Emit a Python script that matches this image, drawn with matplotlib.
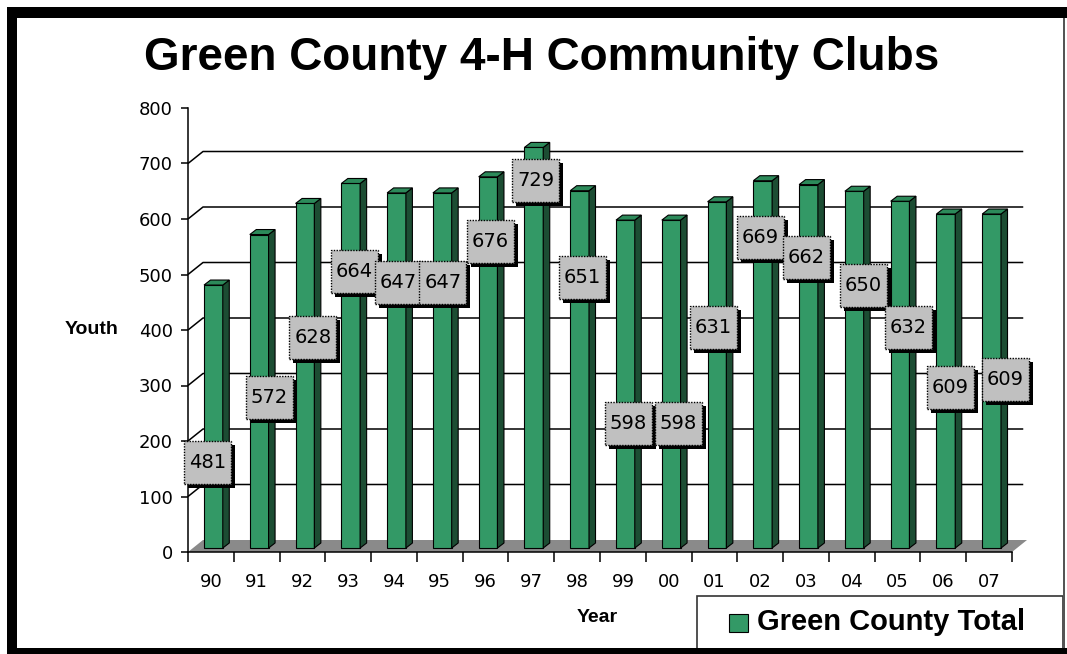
#!/usr/bin/env python3
"""
Green County 4-H Community Clubs - youth enrollment by year.
Old-style Excel 3D column chart redone in matplotlib.
"""

import matplotlib

matplotlib.use("Agg")
import matplotlib.pyplot as plt
from matplotlib.patches import Rectangle, Polygon

# Data
years = ["90", "91", "92", "93", "94", "95", "96", "97", "98", "99",
         "00", "01", "02", "03", "04", "05", "06", "07"]
youth = [481, 572, 628, 664, 647, 647, 676, 729, 651, 598,
         598, 631, 669, 662, 650, 632, 609, 609]
y_ticks = [0, 100, 200, 300, 400, 500, 600, 700, 800]
series_name = "Green County Total"

# where the value boxes sit (category units / youth units), as in the original
label_x = [0.42, 1.77, 2.73, 3.63, 4.59, 5.57, 6.60, 7.60, 8.61,
           9.62, 10.71, 11.47, 12.50, 13.51, 14.75, 15.73, 16.65, 17.85]
label_y = [162, 279, 386, 506, 485, 485, 560, 670, 494,
           232, 232, 404, 566, 530, 481, 404, 297, 310]

# Colors
FRONT = "#339966"
SIDE = "#1c4d33"
TOP = "#2c8a5a"
FLOOR = "#8a8a8a"
BOX = "#c0c0c0"

W, H = 1067, 654


def fx(px):
    return px / W


def fy(py):
    return 1 - py / H


def main():
    fig = plt.figure(figsize=(W / 100, H / 100), dpi=100)
    fig.patch.set_facecolor("white")

    ax_l, ax_r, ax_t, ax_b = 188, 1012, 108, 552
    ax = fig.add_axes([fx(ax_l), fy(ax_b), (ax_r - ax_l) / W, (ax_b - ax_t) / H])
    n = len(years)
    ax.set_xlim(0, n)
    ax.set_ylim(0, y_ticks[-1])
    ax.patch.set_alpha(0)

    px_x = (ax_r - ax_l) / n          # pixels per category
    px_y = (ax_b - ax_t) / y_ticks[-1]  # pixels per youth

    # 3D depth of walls / floor
    DX, DY = 15 / px_x, 12 / px_y

    # floor
    ax.add_patch(Polygon([(0, 0), (n, 0), (n + DX, DY), (DX, DY)],
                         closed=True, facecolor=FLOOR, edgecolor="none",
                         clip_on=False, zorder=1))

    # gridlines on the back wall
    for v in y_ticks[1:-1]:
        ax.plot([0, DX, n + DX * 0.75], [v, v + DY, v + DY], color="black",
                lw=1.1, clip_on=False, zorder=1.5, solid_capstyle="butt")

    # bars: front face + side + top
    base = 4 / px_y
    bx0, bw = 0.35, 0.41
    bdx, bdy = 6.5 / px_x, 5 / px_y
    xs = [i + bx0 for i in range(n)]
    ax.bar(xs, [v - base for v in youth], bottom=base, width=bw, align="edge",
           color=FRONT, edgecolor="black", linewidth=0.8, zorder=3)
    for x, v in zip(xs, youth):
        xr = x + bw
        ax.add_patch(Polygon([(xr, base), (xr + bdx, base + bdy),
                              (xr + bdx, v + bdy), (xr, v)], closed=True,
                             facecolor=SIDE, edgecolor="black", lw=0.8, zorder=3))
        ax.add_patch(Polygon([(x, v), (xr, v), (xr + bdx, v + bdy),
                              (x + bdx, v + bdy)], closed=True,
                             facecolor=TOP, edgecolor="black", lw=0.8, zorder=3))

    # value boxes with drop shadow
    bwid, bhgt = 47 / px_x, 43 / px_y
    sdx, sdy = 4 / px_x, 4 / px_y
    for k, (cx, cy, v) in enumerate(zip(label_x, label_y, youth)):
        z = 5 + k * 0.1
        ax.add_patch(Rectangle((cx - bwid / 2 + sdx, cy - bhgt / 2 - sdy), bwid, bhgt,
                               facecolor="black", edgecolor="none",
                               clip_on=False, zorder=z))
        ax.add_patch(Rectangle((cx - bwid / 2, cy - bhgt / 2), bwid, bhgt,
                               facecolor=BOX, edgecolor="black", lw=1.0,
                               linestyle=(0, (1, 1)), clip_on=False, zorder=z + 0.01))
        ax.text(cx, cy, str(v), ha="center", va="center", fontsize=14,
                family="DejaVu Sans", color="black", zorder=z + 0.02,
                clip_on=False)

    # axes styling
    for s in ["top", "right"]:
        ax.spines[s].set_visible(False)
    ax.spines["left"].set_linewidth(1.1)
    ax.spines["bottom"].set_linewidth(1.1)
    ax.spines["left"].set_zorder(2)
    ax.spines["bottom"].set_zorder(2)

    ax.set_yticks(y_ticks)
    ax.set_yticklabels([str(t) for t in y_ticks], family="DejaVu Sans")
    ax.tick_params(axis="y", direction="out", length=5, width=1.1,
                   labelsize=13, pad=6)

    ax.set_xticks(range(n + 1))
    ax.set_xticklabels([""] * (n + 1))
    ax.set_xticks([i + 0.5 for i in range(n)], minor=True)
    ax.set_xticklabels(years, minor=True, family="DejaVu Sans")
    ax.tick_params(axis="x", which="major", direction="out", length=7, width=1.1)
    ax.tick_params(axis="x", which="minor", length=0, labelsize=13, pad=15)

    # titles / axis labels
    fig.text(fx(542), fy(58), "Green County 4-H Community Clubs", ha="center",
             va="center", fontsize=33, fontweight="bold", family="Liberation Sans")
    fig.text(fx(92), fy(330), "Youth", ha="center", va="center", fontsize=14,
             fontweight="bold", family="Liberation Sans")
    fig.text(fx(597), fy(618), "Year", ha="center", va="center", fontsize=14,
             fontweight="bold", family="Liberation Sans")

    # legend box (hand-drawn so it matches the old layout)
    fig.add_artist(Rectangle((fx(697), fy(652)), fx(1063) - fx(697), (652 - 596) / H,
                             transform=fig.transFigure, facecolor="white",
                             edgecolor="#333333", lw=1.2))
    fig.add_artist(Rectangle((fx(729), fy(632)), 19 / W, 18 / H,
                             transform=fig.transFigure, facecolor=FRONT,
                             edgecolor="black", lw=0.8))
    fig.text(fx(757), fy(622), series_name, ha="left", va="center", fontsize=21,
             fontweight="bold", family="Liberation Sans")

    # black frame around the picture
    for (x0, y0, x1, y1, c) in [(7, 7, 1067, 18, "black"),
                                (7, 7, 17, 654, "black"),
                                (7, 648, 1067, 654, "black"),
                                (1063, 18, 1065, 648, "#555555")]:
        fig.add_artist(Rectangle((fx(x0), fy(y1)), (x1 - x0) / W, (y1 - y0) / H,
                                 transform=fig.transFigure, facecolor=c,
                                 edgecolor="none", zorder=10))

    fig.savefig("out.png", dpi=100)
    plt.close(fig)


if __name__ == "__main__":
    main()
